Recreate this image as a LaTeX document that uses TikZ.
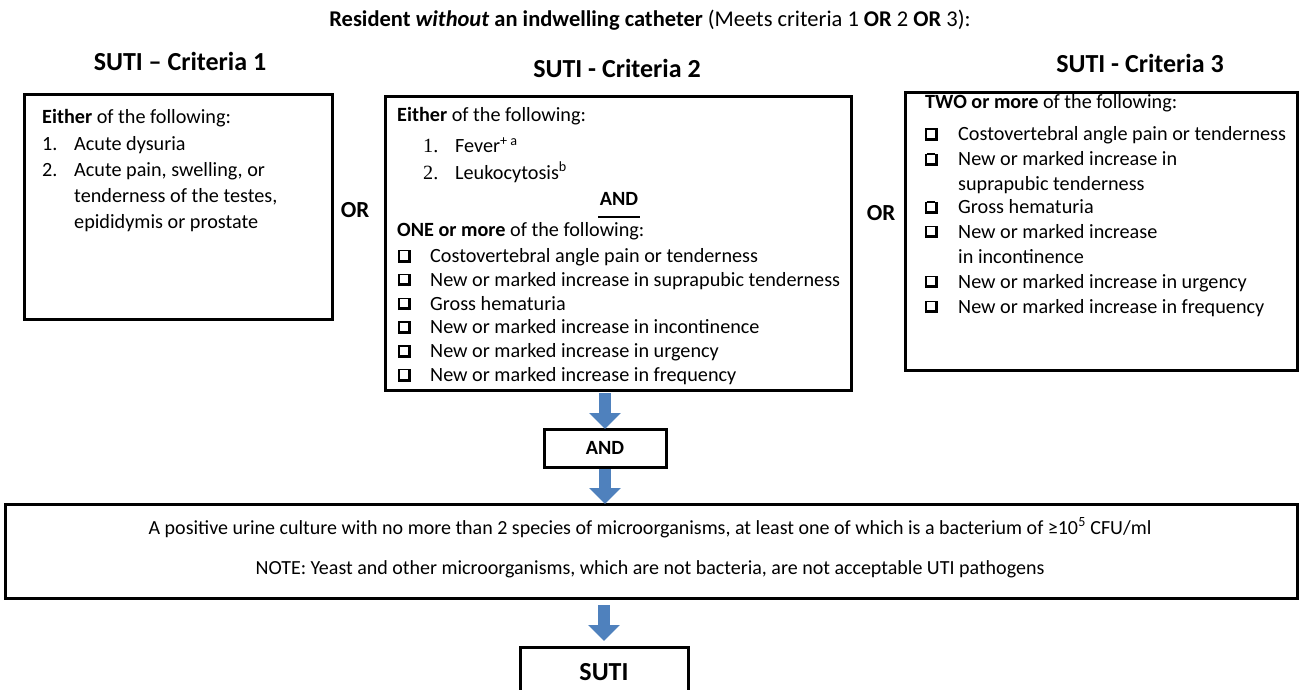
\documentclass[tikz,border=0pt]{standalone}
\usepackage{fontspec}
\setmainfont{Carlito}
\newfontfamily\serifnum{Liberation Serif}
\usetikzlibrary{arrows.meta}
\definecolor{arrowblue}{RGB}{79,129,189}
\newcommand\chk{\hbox{\vrule width 1.4pt height 12.5pt depth 0pt\vbox to 12.5pt{\hrule width 8.4pt height 1.4pt\vfill\hrule width 8.4pt height 3pt}\vrule width 3pt height 12.5pt depth 0pt}}
\begin{document}
\begin{tikzpicture}[x=1pt,y=-1pt,
  box/.style={draw, line width=3pt, inner sep=0pt, outer sep=0pt, anchor=north west},
  txt/.style={anchor=base west, inner sep=0pt, font=\fontsize{20.2}{24}\selectfont},
  ctxt/.style={anchor=base, inner sep=0pt, font=\fontsize{20.2}{24}\selectfont},
  head/.style={anchor=base, inner sep=0pt, font=\fontsize{26}{30}\selectfont\bfseries},
  ortxt/.style={inner sep=0pt, font=\fontsize{23}{26}\selectfont\bfseries},
  chkbox/.style={anchor=base west, inner sep=0pt},
  flow/.style={line width=12pt, draw=arrowblue, -{Triangle[width=31pt,length=16pt]}}]
\useasboundingbox (0,0) rectangle (1299,690);

% title and headers
\node[anchor=base, inner sep=0pt, font=\fontsize{22.5}{26}\selectfont] (title) at (650,27)
  {\textbf{Resident \textit{without} an indwelling catheter} (Meets criteria 1 \textbf{OR} 2 \textbf{OR} 3):};
\node[head] (h1) at (180,71) {SUTI – Criteria 1};
\node[head] (h2) at (617,78) {SUTI - Criteria 2};
\node[head] (h3) at (1140,73) {SUTI - Criteria 3};

% boxes
\node[box, minimum width=308pt, minimum height=224pt] (b1) at (24,95) {};
\node[box, minimum width=466pt, minimum height=293pt] (b2) at (385,97) {};
\node[box, minimum width=392pt, minimum height=277pt] (b3) at (905,93) {};
\node[box, minimum width=122pt, minimum height=38pt, font=\fontsize{20.2}{24}\selectfont\bfseries] (andb) at (544,429) {AND};
\node[box, minimum width=1292pt, minimum height=94pt] (big) at (5,504) {};
\node[box, minimum width=168pt, minimum height=60pt] (sutib) at (520,647) {};
\node[inner sep=0pt, font=\fontsize{26}{30}\selectfont\bfseries] (sutit) at (604,672) {SUTI};

\node[ortxt] (or1) at (355,210) {OR};
\node[ortxt] (or2) at (881,213) {OR};

% box 1 text
\node[txt] (b1t0) at (42,124) {\textbf{Either} of the following:};
\node[txt] (b1n1) at (42,150) {1.};
\node[txt] (b1t1) at (74,150) {Acute dysuria};
\node[txt] (b1n2) at (42,176) {2.};
\node[txt] (b1t2) at (74,176) {Acute pain, swelling, or};
\node[txt] (b1t3) at (74,202) {tenderness of the testes,};
\node[txt] (b1t4) at (74,228) {epididymis or prostate};

% box 2 text
\node[txt] (b2t0) at (397,122) {\textbf{Either} of the following:};
\node[txt] (b2n1) at (423,153) {\serifnum 1.};
\node[txt] (b2t1) at (455,153) {Fever\textsuperscript{+ a}};
\node[txt] (b2n2) at (423,179) {\serifnum 2.};
\node[txt] (b2t2) at (455,179) {Leukocytosis\textsuperscript{b}};
\node[ctxt, font=\fontsize{20.2}{24}\selectfont\bfseries] (b2and) at (619,205) {AND};
\coordinate (ul1) at (598,217);
\coordinate (ul2) at (640,217);
\draw[line width=1.5pt] (ul1) -- (ul2);
\node[txt] (b2t3) at (397,236) {\textbf{ONE or more} of the following:};
\foreach \t [count=\i from 0] in {Costovertebral angle pain or tenderness,
  New or marked increase in suprapubic tenderness,
  Gross hematuria,
  New or marked increase in incontinence,
  New or marked increase in urgency,
  New or marked increase in frequency}{
  \node[chkbox] (b2c\i) at (398,262.5+23.8*\i) {\chk};
  \node[txt] (b2i\i) at (430,262.5+23.8*\i) {\t};
}

% box 3 text
\node[txt] (b3t0) at (925,109) {\textbf{TWO or more} of the following:};
\node[chkbox] (b3c1) at (925,141) {\chk};
\node[txt] (b3i1) at (958,141) {Costovertebral angle pain or tenderness};
\node[chkbox] (b3c2) at (925,166) {\chk};
\node[txt] (b3i2) at (958,166) {New or marked increase in};
\node[txt] (b3i2b) at (958,190) {suprapubic tenderness};
\node[chkbox] (b3c3) at (925,214) {\chk};
\node[txt] (b3i3) at (958,214) {Gross hematuria};
\node[chkbox] (b3c4) at (925,238) {\chk};
\node[txt] (b3i4) at (958,238) {New or marked increase};
\node[txt] (b3i4b) at (958,263) {in incontinence};
\node[chkbox] (b3c5) at (925,288) {\chk};
\node[txt] (b3i5) at (958,288) {New or marked increase in urgency};
\node[chkbox] (b3c6) at (925,313) {\chk};
\node[txt] (b3i6) at (958,313) {New or marked increase in frequency};

% big box text
\node[ctxt, font=\fontsize{20}{24}\selectfont] (bigt1) at (650,534)
  {A positive urine culture with no more than 2 species of microorganisms, at least one of which is a bacterium of ≥10\textsuperscript{5} CFU/ml};
\node[ctxt, font=\fontsize{20}{24}\selectfont] (bigt2) at (650,574)
  {NOTE: Yeast and other microorganisms, which are not bacteria, are not acceptable UTI pathogens};

% arrows
\draw[flow, shorten <=3pt] (andb.north |- b2.south) -- (andb.north);
\draw[flow, shorten <=2pt] (andb.south) -- (andb.south |- big.north);
\draw[flow, shorten <=7pt, shorten >=6pt] (sutib.north |- big.south) -- (sutib.north);
\end{tikzpicture}
\end{document}
